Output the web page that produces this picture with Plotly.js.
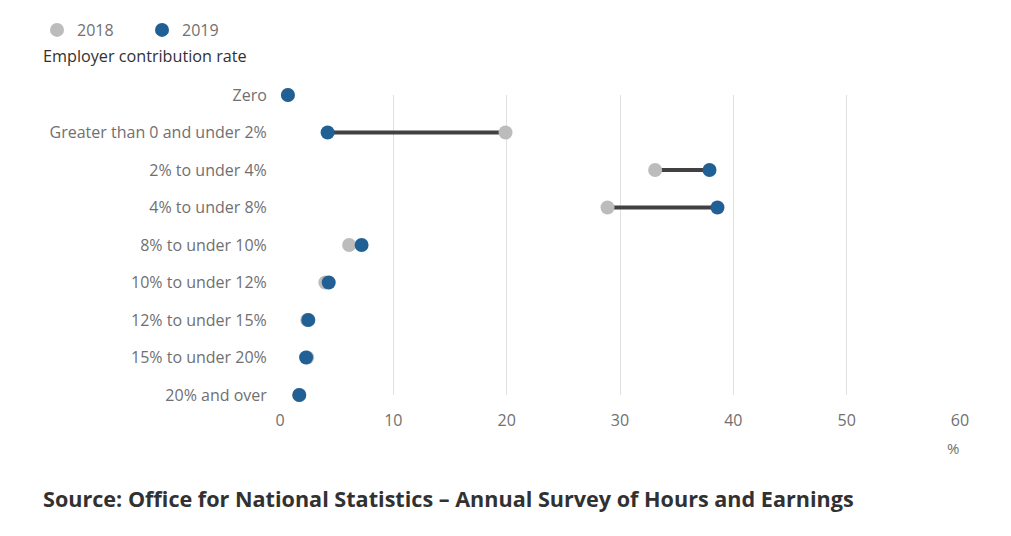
<!DOCTYPE html>
<html>
<head>
<meta charset="utf-8">
<script src="https://cdn.plot.ly/plotly-3.0.1.min.js"></script>
<style>html,body{margin:0;padding:0;background:#fff;}#chart{width:1011px;height:536px;}</style>
</head>
<body>
<div id="chart"></div>
<script>
const categories = ["Zero","Greater than 0 and under 2%","2% to under 4%","4% to under 8%","8% to under 10%","10% to under 12%","12% to under 15%","15% to under 20%","20% and over"];
const values2018 = [0.7, 19.9, 33.1, 28.9, 6.1, 4.0, 2.4, 2.4, 1.7];
const values2019 = [0.7, 4.2, 37.9, 38.6, 7.2, 4.3, 2.5, 2.3, 1.7];
const xTicks = [0, 10, 20, 30, 40, 50, 60];

const lx = [], ly = [];
categories.forEach((c, i) => { lx.push(values2018[i], values2019[i], null); ly.push(c, c, null); });

const traces = [
  {x: lx, y: ly, mode: 'lines', line: {color: '#414042', width: 4}, showlegend: false, hoverinfo: 'skip', cliponaxis: false},
  {x: values2018, y: categories, mode: 'markers', name: '2018', marker: {color: '#bcbcbd', size: 14}, cliponaxis: false},
  {x: values2019, y: categories, mode: 'markers', name: '2019', marker: {color: '#206095', size: 14}, cliponaxis: false}
];

const layout = {
  width: 1011, height: 536,
  margin: {l: 280, r: 51, t: 95, b: 141},
  paper_bgcolor: '#fff', plot_bgcolor: '#fff',
  font: {family: '"Open Sans", sans-serif', size: 16, color: '#707071'},
  showlegend: true,
  legend: {orientation: 'h', xref: 'container', yref: 'container', x: 37/1011, y: 1 - 13/536, xanchor: 'left', yanchor: 'top',
           font: {size: 16, color: '#707071'}, itemwidth: 30, entrywidth: 60, traceorder: 'normal'},
  xaxis: {range: [0, 60], tickvals: xTicks, ticktext: xTicks.map(String), showgrid: true, gridcolor: '#e0e0e0', gridwidth: 1,
          zeroline: false, showline: false, ticks: 'outside', ticklen: 11, tickcolor: 'rgba(0,0,0,0)', fixedrange: true},
  yaxis: {range: [8, 0], type: 'category', categoryorder: 'array', categoryarray: categories, showgrid: false, zeroline: false,
          showline: false, ticks: 'outside', ticklen: 9, tickcolor: 'rgba(0,0,0,0)', fixedrange: true},
  annotations: [
    {text: 'Employer contribution rate', xref: 'paper', yref: 'paper', x: -(280-41)/680, y: 1.0 + (95-56)/300, xanchor: 'left', yanchor: 'middle',
     showarrow: false, font: {size: 16.2, color: '#323132'}},
    {text: '%', xref: 'paper', yref: 'paper', x: 0.99, y: -(448-395)/300, xanchor: 'center', yanchor: 'middle',
     showarrow: false, font: {size: 15, color: '#707071'}},
    {text: '<b>Source: Office for National Statistics – Annual Survey of Hours and Earnings</b>', xref: 'paper', yref: 'paper',
     x: -(280-41)/680, y: -(498-395)/300, xanchor: 'left', yanchor: 'middle', showarrow: false, font: {size: 21.6, color: '#323132'}}
  ]
};

Plotly.newPlot('chart', traces, layout, {displayModeBar: false, staticPlot: true});
</script>
</body>
</html>
